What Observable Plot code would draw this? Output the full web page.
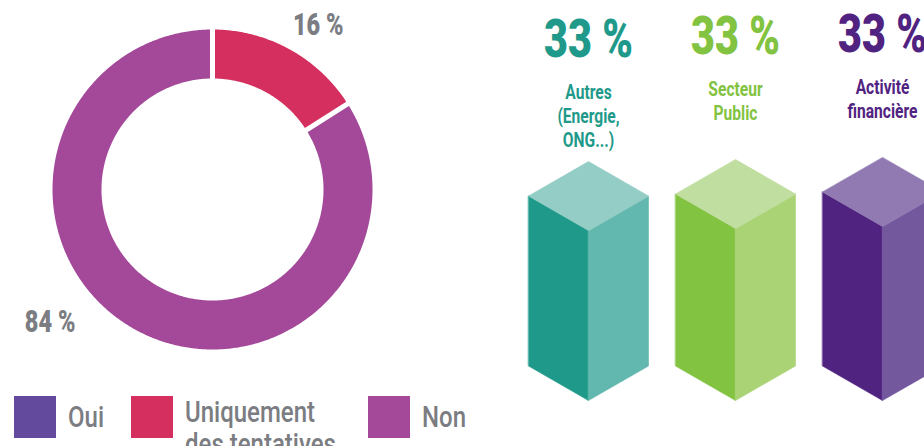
<!DOCTYPE html>
<html><head><meta charset="utf-8">
<script src="https://cdn.jsdelivr.net/npm/d3@7"></script>
<script src="https://cdn.jsdelivr.net/npm/@observablehq/plot@0.6"></script>
<style>
body{margin:0;background:#fff;}
#root{position:relative;width:924px;height:446px;overflow:hidden;font-family:Roboto,"Noto Sans",sans-serif;}
#donut{position:absolute;left:0;top:0;}
#bars{position:absolute;left:500px;top:0;}
#legend{position:absolute;left:0;top:396px;width:500px;height:50px;}
.sw{position:absolute;top:0;width:42px;height:42px;}
.lab{position:absolute;color:#7b7d82;font-size:30px;font-weight:500;line-height:32px;max-width:190px;transform:scaleX(0.8);transform-origin:left top;}
</style></head><body>
<div id="root"><div id="donut"></div><div id="legend"></div><div id="bars"></div></div>
<script>
// ---------- data ----------
const answers = ["Oui", "Uniquement des tentatives", "Non"];
const answerShares = [0, 16, 84];
const sectors = ["Autres\n(Energie,\nONG...)", "Secteur\nPublic", "Activité\nfinancière"];
const sectorShares = [33.0, 33.4, 33.8];
const sectorLabels = ["33 %", "33 %", "33 %"];

// ---------- styles / layout ----------
const answerColors = ["#634a9c", "#d42f5f", "#a4499a"];
const sectorFaceColors = [
  {left: "#1f9a8a", right: "#62b8ae", top: "#93cdc5", text: "#1f9a8a"},
  {left: "#82c341", right: "#a9d375", top: "#c0dea0", text: "#82c341"},
  {left: "#512381", right: "#74589d", top: "#917ab2", text: "#512381"}
];
const grey = "#7b7d82";
const FONT = 'Roboto,"Noto Sans",sans-serif';
const legendLefts = [14, 131, 368];

// squeeze text horizontally (condensed look) for the text marks, in mark order
function condense(svg, scales) {
  svg.querySelectorAll('g[aria-label="text"]').forEach((g, k) => {
    const s = scales[k];
    g.querySelectorAll("text").forEach(t => {
      const tr = t.getAttribute("transform") || "";
      t.setAttribute("transform", tr + ` scale(${s},1)`);
    });
  });
}

// ---------- donut ----------
const R_OUT = 1, R_IN = 111 / 160, HALF_GAP = 2.5 / 160;
const pie = d3.pie().sort(null).value(d => d.share);
const answerData = answers.map((a, i) => ({answer: a, share: answerShares[i], color: answerColors[i]}));
const arcs = pie(answerData).filter(a => a.data.share > 0);
const ringPts = [];
for (const a of arcs) {
  const oa0 = a.startAngle + Math.asin(HALF_GAP / R_OUT), oa1 = a.endAngle - Math.asin(HALF_GAP / R_OUT);
  const ia0 = a.startAngle + Math.asin(HALF_GAP / R_IN), ia1 = a.endAngle - Math.asin(HALF_GAP / R_IN);
  const n = Math.max(4, Math.ceil((a.endAngle - a.startAngle) / 0.01));
  for (let k = 0; k <= n; k++) {
    const t = oa0 + (oa1 - oa0) * k / n;
    ringPts.push({answer: a.data.answer, color: a.data.color, x: R_OUT * Math.sin(t), y: R_OUT * Math.cos(t)});
  }
  for (let k = n; k >= 0; k--) {
    const t = ia0 + (ia1 - ia0) * k / n;
    ringPts.push({answer: a.data.answer, color: a.data.color, x: R_IN * Math.sin(t), y: R_IN * Math.cos(t)});
  }
}
// label placement (layout): angle offset from slice middle, and radius
const labelLayout = {"Uniquement des tentatives": {dAngle: 4, r: 1.22}, "Non": {dAngle: 22, r: 1.31}};
const donutLabels = arcs.map(a => {
  const L = labelLayout[a.data.answer];
  const t = (a.startAngle + a.endAngle) / 2 + L.dAngle * Math.PI / 180;
  return {text: `${a.data.share} %`, x: L.r * Math.sin(t), y: L.r * Math.cos(t)};
});

const donut = Plot.plot({
  width: 500, height: 392, margin: 0,
  x: {domain: [-1, 1], range: [52, 372], axis: null},
  y: {domain: [-1, 1], range: [349, 29], axis: null},
  color: {type: "identity"},
  style: {background: "transparent", fontFamily: FONT},
  marks: [
    Plot.line(ringPts, {x: "x", y: "y", z: "answer", fill: "color", stroke: "none", curve: "linear-closed"}),
    Plot.text(donutLabels, {x: "x", y: "y", text: "text", fill: grey, fontSize: 31, fontWeight: 900, textAnchor: "middle", lineAnchor: "middle"})
  ]
});
condense(donut, [0.76]);
document.getElementById("donut").appendChild(donut);

// legend
const legend = document.getElementById("legend");
answers.forEach((a, i) => {
  const sw = document.createElement("div");
  sw.className = "sw"; sw.style.background = answerColors[i]; sw.style.left = legendLefts[i] + "px";
  const lb = document.createElement("div");
  lb.className = "lab"; lb.textContent = a; lb.style.left = (legendLefts[i] + 54) + "px";
  legend.appendChild(sw); legend.appendChild(lb);
  const h = lb.getBoundingClientRect().height;
  lb.style.top = ((42 - Math.min(h, 42)) / 2) + "px";
});

// ---------- 3D bars ----------
const Y0_PX = 400, YREF_PX = 230, YREF = 33;
const pxPerUnit = (Y0_PX - YREF_PX) / YREF;
const DEPTH = 34.5 / pxPerUnit;     // isometric depth in value units
const HALF_W = 60 / 147;            // half-width in bar-slot units
const faces = [];
sectors.forEach((s, i) => {
  const v = sectorShares[i], c = sectorFaceColors[i];
  const poly = (face, color, pts) => pts.forEach(([x, y]) => faces.push({id: i + "-" + face, color, x, y}));
  poly("left", c.left, [[i - HALF_W, DEPTH], [i, 0], [i, v], [i - HALF_W, v + DEPTH]]);
  poly("right", c.right, [[i, 0], [i + HALF_W, DEPTH], [i + HALF_W, v + DEPTH], [i, v]]);
  poly("top", c.top, [[i, v], [i - HALF_W, v + DEPTH], [i, v + 2 * DEPTH], [i + HALF_W, v + DEPTH]]);
});
const sectorData = sectors.map((s, i) => ({i, sector: s, share: sectorShares[i], label: sectorLabels[i], color: sectorFaceColors[i].text}));

const bars = Plot.plot({
  width: 424, height: 446, margin: 0,
  x: {domain: [0, 2], range: [88, 382], axis: null},
  y: {domain: [0, YREF], range: [Y0_PX, YREF_PX], axis: null},
  color: {type: "identity"},
  style: {background: "transparent", fontFamily: FONT},
  marks: [
    Plot.line(faces, {x: "x", y: "y", z: "id", fill: "color", stroke: "color", strokeWidth: 0.6, curve: "linear-closed"}),
    Plot.text(sectorData, {x: "i", y: "share", text: "label", fill: "color", fontSize: 53, fontWeight: 900, textAnchor: "middle", lineAnchor: "bottom", dy: -174}),
    Plot.text(sectorData, {x: "i", y: "share", text: "sector", fill: "color", fontSize: 20, fontWeight: "bold", textAnchor: "middle", lineAnchor: "top", lineHeight: 1.2, dy: -149})
  ]
});
condense(bars, [0.78, 0.78]);
document.getElementById("bars").appendChild(bars);
</script>
</body></html>
